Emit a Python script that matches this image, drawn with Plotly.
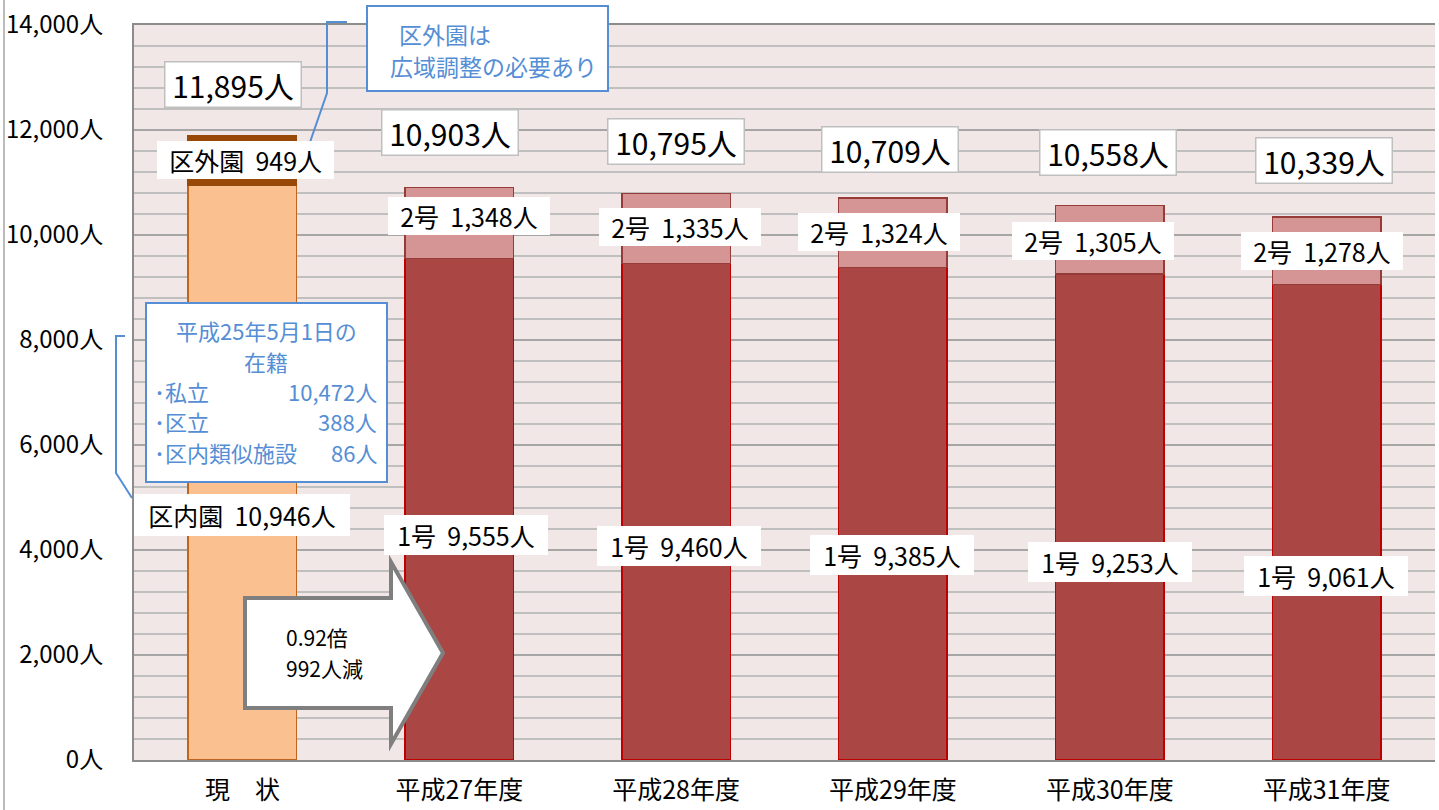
import plotly.graph_objects as go

# ---------------- data ----------------
categories = ["現　状", "平成27年度", "平成28年度", "平成29年度", "平成30年度", "平成31年度"]
current_inner = [10946]          # 区内園
current_outer = [949]            # 区外園
no1_values = [9555, 9460, 9385, 9253, 9061]   # 1号
no2_values = [1348, 1335, 1324, 1305, 1278]   # 2号
totals = [11895, 10903, 10795, 10709, 10558, 10339]
enrolled_private = 10472
enrolled_ward = 388
enrolled_similar = 86
ratio_text = "0.92倍"
decrease = 992
y_ticks = [0, 2000, 4000, 6000, 8000, 10000, 12000, 14000]
y_tick_labels = [f"{v:,}人" for v in y_ticks]

# ---------------- layout geometry ----------------
W, H = 1439, 810
L, R, T, B = 134, 4, 25, 50
PW, PH = W - L - R, H - T - B
FONT = "Noto Sans CJK JP, Noto Sans, sans-serif"
BLUE = "#558ED5"


def px(x):
    return (x - L) / PW


def py(y):
    return (H - B - y) / PH


fig = go.Figure()

fig.add_trace(go.Bar(x=categories[:1], y=current_inner, width=0.5,
                     marker=dict(color="#FAC090", line=dict(color="#C0651E", width=1.5))))
fig.add_trace(go.Bar(x=categories[:1], y=current_outer, width=0.5,
                     marker=dict(color="#984807", line=dict(color="#984807", width=1.5))))
fig.add_trace(go.Bar(x=categories[1:], y=no1_values, width=0.5,
                     marker=dict(color="#AA4644", line=dict(color="#C00000", width=1.5))))
fig.add_trace(go.Bar(x=categories[1:], y=no2_values, width=0.5,
                     marker=dict(color="#D49594", line=dict(color="#963B38", width=1.5))))

annotations = []
shapes = []


def label(cx, cy, text, size=24, border=None, pad=4, color="black", align="center",
          xanchor="center"):
    annotations.append(dict(
        x=px(cx), y=py(cy), xref="paper", yref="paper", text=text, showarrow=False,
        font=dict(family=FONT, size=size, color=color), align=align,
        xanchor=xanchor, yanchor="middle",
        bgcolor="white" if pad is not None else None,
        bordercolor=border if border else "rgba(0,0,0,0)", borderwidth=1.5 if border else 0,
        borderpad=pad if pad is not None else 0,
    ))


NB = "\u00a0\u00a0"

# totals
total_pos = [(233, 84), (450, 132), (676, 141), (890, 150), (1108, 152), (1324, 160)]
for (cx, cy), v in zip(total_pos, totals):
    label(cx, cy, f"{NB[0]}{v:,}人{NB[0]}", size=30, border="#BFBFBF", pad=0)

# 2号 labels
no2_pos = [(469, 216), (680, 227), (879, 232), (1093, 241), (1322, 251)]
for (cx, cy), v in zip(no2_pos, no2_values):
    label(cx, cy, f"{NB}2号{NB}{v:,}人{NB}", size=25, pad=1)

# 1号 labels
no1_pos = [(466, 535), (679, 546), (892, 555), (1110, 562), (1326, 576)]
for (cx, cy), v in zip(no1_pos, no1_values):
    label(cx, cy, f"{NB}1号{NB}{v:,}人{NB}", size=25, pad=2)

label(245, 160, f"{NB}区外園{NB}{current_outer[0]:,}人{NB}", size=25, pad=1)
label(242, 515, f"{NB}区内園{NB}{current_inner[0]:,}人{NB}", size=25, pad=3)

# callout 1
shapes.append(dict(type="rect", xref="paper", yref="paper", x0=px(367), x1=px(608),
                   y0=py(6), y1=py(91), line=dict(color=BLUE, width=2), fillcolor="white",
                   layer="above"))
shapes.append(dict(type="path", xref="paper", yref="paper",
                   path=f"M{px(347)},{py(22)} L{px(327)},{py(22)} L{px(327)},{py(93)} L{px(309)},{py(145)}",
                   line=dict(color=BLUE, width=2), layer="above"))
label(399, 34, "区外園は", size=23, pad=None, color=BLUE, xanchor="left")
label(390, 66, "広域調整の必要あり", size=23, pad=None, color=BLUE, xanchor="left")

# callout 2
shapes.append(dict(type="rect", xref="paper", yref="paper", x0=px(146), x1=px(387),
                   y0=py(303), y1=py(482), line=dict(color=BLUE, width=2), fillcolor="white",
                   layer="above"))
shapes.append(dict(type="path", xref="paper", yref="paper",
                   path=f"M{px(125)},{py(336)} L{px(116)},{py(336)} L{px(116)},{py(473)} L{px(132)},{py(498)}",
                   line=dict(color=BLUE, width=2), layer="above"))
label(266, 330, "平成25年5月1日の", size=22, pad=None, color=BLUE)
label(266, 361, "在籍", size=22, pad=None, color=BLUE)
label(154, 391, "･私立", size=22, pad=None, color=BLUE, xanchor="left")
label(154, 421, "･区立", size=22, pad=None, color=BLUE, xanchor="left")
label(154, 452, "･区内類似施設", size=22, pad=None, color=BLUE, xanchor="left")
label(377, 391, f"{enrolled_private:,}人", size=22, pad=None, color=BLUE, xanchor="right")
label(377, 421, f"{enrolled_ward:,}人", size=22, pad=None, color=BLUE, xanchor="right")
label(377, 452, f"{enrolled_similar:,}人", size=22, pad=None, color=BLUE, xanchor="right")

# arrow
pts = [(245, 598), (391, 598), (391, 562), (443, 653), (391, 744), (391, 708), (245, 708)]
path = "M" + " L".join(f"{px(x)},{py(y)}" for x, y in pts) + " Z"
shapes.append(dict(type="path", xref="paper", yref="paper", path=path,
                   line=dict(color="#7F7F7F", width=4), fillcolor="white", layer="above"))
label(286, 637, ratio_text, size=21, pad=None, xanchor="left")
label(286, 668, f"{decrease}人減", size=21, pad=None, xanchor="left")

# outer left border
shapes.append(dict(type="line", xref="paper", yref="paper", x0=px(4), x1=px(4),
                   y0=py(0), y1=py(810), line=dict(color="#A6A6A6", width=1.5)))

fig.update_layout(
    width=W, height=H, margin=dict(l=L, r=R, t=T, b=B),
    barmode="stack", showlegend=False, bargap=0.5,
    paper_bgcolor="white", plot_bgcolor="#F2E7E7",
    font=dict(family=FONT, color="black"),
    annotations=annotations, shapes=shapes,
    xaxis=dict(type="category", range=[-0.5, 5.5], showline=True, mirror=True,
               linecolor="#8C8C8C", linewidth=2, ticks="", automargin=False,
               tickfont=dict(size=25, family=FONT), ticklabelstandoff=7),
    yaxis=dict(range=[0, 14000], tickvals=y_ticks, ticktext=y_tick_labels,
               showline=True, linecolor="#8C8C8C", linewidth=2, ticks="", automargin=False,
               showgrid=True, gridcolor="#A6A6A6", gridwidth=2, zeroline=False,
               tickfont=dict(size=24, family=FONT), ticklabelstandoff=24,
               minor=dict(dtick=400, showgrid=True, gridcolor="#BFBFBF", gridwidth=2)),
)

fig.write_html(
    "out.html",
    config={"displayModeBar": False},
    post_script="document.body.style.margin='0';document.body.style.overflow='hidden';",
)
